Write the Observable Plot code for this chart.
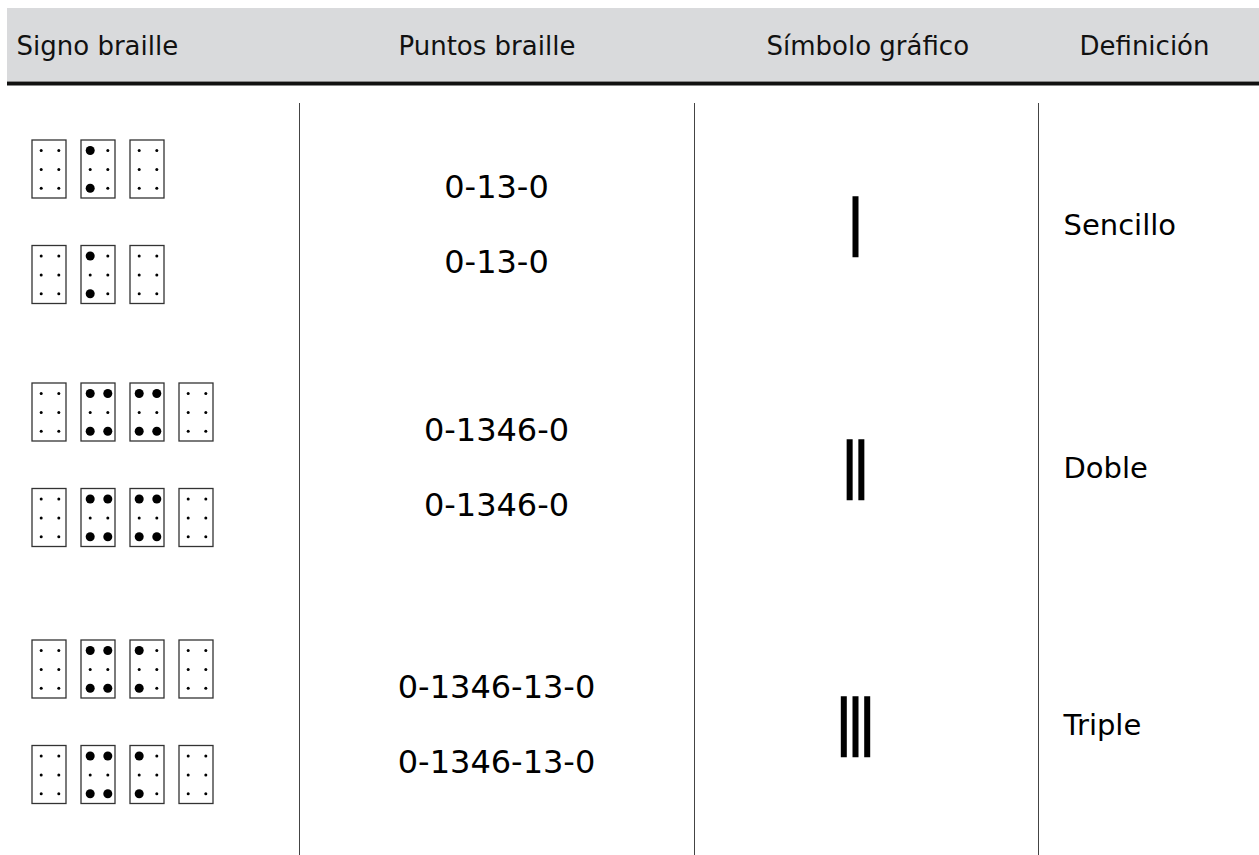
<!DOCTYPE html>
<html>
<head>
<meta charset="utf-8">
<script src="https://cdn.jsdelivr.net/npm/d3@7"></script>
<script src="https://cdn.jsdelivr.net/npm/@observablehq/plot@0.6"></script>
<style>
  html, body { margin: 0; padding: 0; background: #fff; }
  #chart svg { display: block; }
</style>
</head>
<body>
<div id="chart"></div>
<script>
// ---- data ----
const headers = ["Signo braille", "Puntos braille", "Símbolo gráfico", "Definición"];
const definitions = ["Sencillo", "Doble", "Triple"];
const brailleCodes = ["0-13-0", "0-1346-0", "0-1346-13-0"];
// dot patterns of the braille cells as drawn (one list per row; "0" = empty cell)
const brailleCells = [
  ["0", "13", "0"],
  ["0", "1346", "1346", "0"],
  ["0", "1346", "13", "0"]
];
const barCounts = [1, 2, 3];
const linesPerRow = 2;

// ---- layout ----
const W = 1259, H = 855;
const rowTop = [140, 383, 640];
const lineGap = 105.5;
const cellW = 34, cellH = 58, cellStep = 49, cellX0 = 32;
const dotDX = [8.7, 26.3], dotDY = [10, 29, 47.7];
const headerX = [16, 398, 766, 1079];
const separators = [299, 694, 1038];
const pointsX = 496, pointsGap = 75;
const symX = 855.5, barStep = 11.7, barW = 6, barH = 61;
const defX = 1063;

// build tables from the data
const cells = [], dotsSmall = [], dotsBig = [], pointTexts = [], bars = [], defs = [];
brailleCodes.forEach((code, r) => {
  const parts = brailleCells[r];
  for (let l = 0; l < linesPerRow; l++) {
    const y0 = rowTop[r] + l * lineGap;
    parts.forEach((p, c) => {
      const x0 = cellX0 + c * cellStep;
      cells.push({x1: x0, x2: x0 + cellW, y1: y0, y2: y0 + cellH});
      for (let d = 1; d <= 6; d++) {
        const col = d <= 3 ? 0 : 1, row = (d - 1) % 3;
        const pt = {x: x0 + dotDX[col], y: y0 + dotDY[row]};
        (p.includes(String(d)) ? dotsBig : dotsSmall).push(pt);
      }
    });
    pointTexts.push({x: pointsX, y: rowTop[r] + 47 + l * pointsGap, text: code});
  }
  const rowCenter = rowTop[r] + (lineGap + cellH) / 2;
  const n = barCounts[r];
  for (let b = 0; b < n; b++) {
    const cx = symX + (b - (n - 1) / 2) * barStep;
    bars.push({x1: cx - barW / 2, x2: cx + barW / 2, y1: rowCenter + 5 - barH / 2, y2: rowCenter + 5 + barH / 2});
  }
  defs.push({x: defX, y: rowCenter + 3, text: definitions[r]});
});
const headerData = headers.map((h, i) => ({x: headerX[i], y: 46, text: h}));

const chart = Plot.plot({
  width: W, height: H,
  margin: 0,
  x: {domain: [0, W], range: [0, W], axis: null},
  y: {domain: [0, H], range: [0, H], axis: null},
  style: {fontFamily: "'DejaVu Sans', Verdana, sans-serif", background: "#fff"},
  marks: [
    Plot.rect([{x1: 7, x2: W, y1: 8, y2: 81}], {x1: "x1", x2: "x2", y1: "y1", y2: "y2", fill: "#d9dadc"}),
    Plot.ruleY([83], {x1: 7, x2: W, stroke: "#111", strokeWidth: 4}),
    Plot.text(headerData, {x: "x", y: "y", text: "text", textAnchor: "start", fontSize: 26, fill: "#111"}),
    Plot.ruleX(separators, {y1: 103, y2: H, stroke: "#444", strokeWidth: 1}),
    Plot.rect(cells, {x1: "x1", x2: "x2", y1: "y1", y2: "y2", fill: "#fff", stroke: "#333", strokeWidth: 1.3}),
    Plot.dot(dotsSmall, {x: "x", y: "y", r: 1.5, fill: "#000", stroke: null}),
    Plot.dot(dotsBig, {x: "x", y: "y", r: 4.5, fill: "#000", stroke: null}),
    Plot.text(pointTexts, {x: "x", y: "y", text: "text", fontSize: 32, fill: "#000"}),
    Plot.rect(bars, {x1: "x1", x2: "x2", y1: "y1", y2: "y2", fill: "#000"}),
    Plot.text(defs, {x: "x", y: "y", text: "text", textAnchor: "start", fontSize: 29, fill: "#000"})
  ]
});
document.getElementById("chart").appendChild(chart);
</script>
</body>
</html>
